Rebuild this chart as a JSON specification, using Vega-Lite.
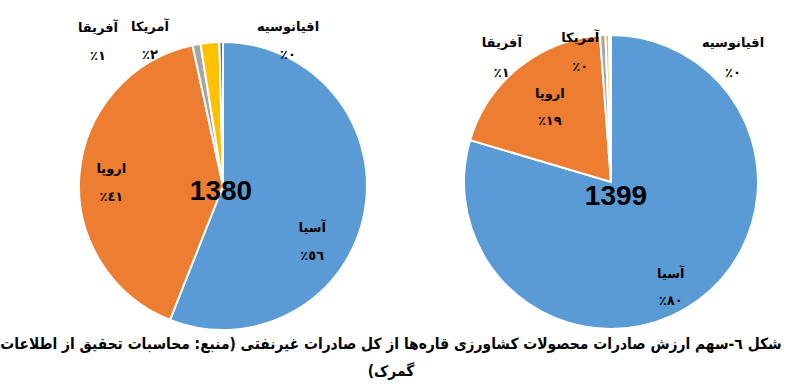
{
  "$schema": "https://vega.github.io/schema/vega-lite/v6.json",
  "padding": 0,
  "background": "white",
  "spacing": 0,
  "bounds": "flush",
  "config": {"view": {"stroke": null}},
  "datasets": {
    "pies": [
      {"year": "1380", "continent": "آسیا", "share": 56.0, "rank": 1, "label": ["آسیا", "٪٥٦"]},
      {"year": "1380", "continent": "اروپا", "share": 40.6, "rank": 2, "label": ["اروپا", "٪٤١"]},
      {"year": "1380", "continent": "آفریقا", "share": 0.9, "rank": 3, "label": ["آفریقا", "٪١"]},
      {"year": "1380", "continent": "آمریکا", "share": 2.1, "rank": 4, "label": ["آمریکا", "٪٢"]},
      {"year": "1380", "continent": "اقیانوسیه", "share": 0.4, "rank": 5, "label": ["اقیانوسیه", "٪٠"]},
      {"year": "1399", "continent": "آسیا", "share": 79.6, "rank": 1, "label": ["آسیا", "٪٨٠"]},
      {"year": "1399", "continent": "اروپا", "share": 19.2, "rank": 2, "label": ["اروپا", "٪١٩"]},
      {"year": "1399", "continent": "آفریقا", "share": 0.6, "rank": 3, "label": ["آفریقا", "٪١"]},
      {"year": "1399", "continent": "آمریکا", "share": 0.4, "rank": 4, "label": ["آمریکا", "٪٠"]},
      {"year": "1399", "continent": "اقیانوسیه", "share": 0.2, "rank": 5, "label": ["اقیانوسیه", "٪٠"]}
    ]
  },
  "title": {
    "text": ["شکل ٦-سهم ارزش صادرات محصولات کشاورزی قاره‌ها از کل صادرات غیرنفتی (منبع: محاسبات تحقیق از اطلاعات", "‏گمرک)‏"],
    "orient": "bottom",
    "anchor": "middle",
    "offset": -35,
    "font": "DejaVu Sans Condensed",
    "fontSize": 15.4,
    "fontWeight": "bold",
    "color": "black",
    "lineHeight": 27
  },
  "hconcat": [
    {
      "width": 440,
      "height": 372,
      "data": {"name": "pies"},
      "transform": [{"filter": "datum.year === '1380'"}],
      "layer": [
        {
          "mark": {"type": "arc", "outerRadius": 144, "stroke": "white", "strokeWidth": 2},
          "encoding": {
            "theta": {"field": "share", "type": "quantitative", "stack": true},
            "order": {"field": "rank", "type": "quantitative"},
            "color": {"field": "continent", "type": "nominal", "legend": null,
              "scale": {"domain": ["آسیا", "اروپا", "آفریقا", "آمریکا", "اقیانوسیه"], "range": ["#5B9BD5", "#ED7D31", "#A5A5A5", "#FFC000", "#4472C4"]}}
          }
        },
        {
          "mark": {"type": "text", "radius": 98, "dx": -7, "dy": 24, "font": "DejaVu Sans", "fontWeight": "bold", "fontSize": 13, "lineHeight": 28, "baseline": "middle", "align": "center", "color": "black"},
          "encoding": {
            "theta": {"field": "share", "type": "quantitative", "stack": true},
            "order": {"field": "rank", "type": "quantitative"},
            "text": {"condition": {"test": "datum.rank === 1", "field": "label"}, "value": ""}
          }
        },
        {
          "mark": {"type": "text", "radius": 113, "dx": 1, "dy": -8, "font": "DejaVu Sans", "fontWeight": "bold", "fontSize": 13, "lineHeight": 28, "baseline": "middle", "align": "center", "color": "black"},
          "encoding": {
            "theta": {"field": "share", "type": "quantitative", "stack": true},
            "order": {"field": "rank", "type": "quantitative"},
            "text": {"condition": {"test": "datum.rank === 2", "field": "label"}, "value": ""}
          }
        },
        {
          "transform": [{"stack": "share", "groupby": [], "sort": [{"field": "rank"}], "as": ["s0", "s1"]}, {"filter": "datum.rank === 3"}],
          "mark": {"type": "text", "radius": 160, "dx": -100, "dy": 0, "font": "DejaVu Sans", "fontWeight": "bold", "fontSize": 13, "lineHeight": 28, "baseline": "middle", "align": "center", "color": "black"},
          "encoding": {
            "theta": {"field": "s1", "type": "quantitative", "stack": null},
            "text": {"field": "label"}
          }
        },
        {
          "transform": [{"stack": "share", "groupby": [], "sort": [{"field": "rank"}], "as": ["s0", "s1"]}, {"filter": "datum.rank === 4"}],
          "mark": {"type": "text", "radius": 160, "dx": -69, "dy": 1, "font": "DejaVu Sans", "fontWeight": "bold", "fontSize": 13, "lineHeight": 28, "baseline": "middle", "align": "center", "color": "black"},
          "encoding": {
            "theta": {"field": "s1", "type": "quantitative", "stack": null},
            "text": {"field": "label"}
          }
        },
        {
          "transform": [{"stack": "share", "groupby": [], "sort": [{"field": "rank"}], "as": ["s0", "s1"]}, {"filter": "datum.rank === 5"}],
          "mark": {"type": "text", "radius": 159, "dx": 65, "dy": 0, "font": "DejaVu Sans", "fontWeight": "bold", "fontSize": 13, "lineHeight": 28, "baseline": "middle", "align": "center", "color": "black"},
          "encoding": {
            "theta": {"field": "s1", "type": "quantitative", "stack": null},
            "text": {"field": "label"}
          }
        },
        {
          "transform": [{"filter": "datum.rank === 1"}],
          "mark": {"type": "text", "dx": -2, "dy": 6, "font": "Liberation Sans", "fontWeight": "bold", "fontSize": 28, "baseline": "middle", "align": "center", "color": "black"},
          "encoding": {"text": {"field": "year", "type": "nominal"}}
        }
      ]
    },
    {
      "width": 336,
      "height": 364,
      "data": {"name": "pies"},
      "transform": [{"filter": "datum.year === '1399'"}],
      "layer": [
        {
          "mark": {"type": "arc", "outerRadius": 147, "stroke": "white", "strokeWidth": 2},
          "encoding": {
            "theta": {"field": "share", "type": "quantitative", "stack": true},
            "order": {"field": "rank", "type": "quantitative"},
            "color": {"field": "continent", "type": "nominal", "legend": null,
              "scale": {"domain": ["آسیا", "اروپا", "آفریقا", "آمریکا", "اقیانوسیه"], "range": ["#5B9BD5", "#ED7D31", "#A5A5A5", "#FFC000", "#4472C4"]}}
          }
        },
        {
          "mark": {"type": "text", "radius": 110, "dx": -6, "dy": 4, "font": "DejaVu Sans", "fontWeight": "bold", "fontSize": 13, "lineHeight": 27, "baseline": "middle", "align": "center", "color": "black"},
          "encoding": {
            "theta": {"field": "share", "type": "quantitative", "stack": true},
            "order": {"field": "rank", "type": "quantitative"},
            "text": {"condition": {"test": "datum.rank === 1", "field": "label"}, "value": ""}
          }
        },
        {
          "mark": {"type": "text", "radius": 107, "dx": 6, "dy": -5, "font": "DejaVu Sans", "fontWeight": "bold", "fontSize": 13, "lineHeight": 27, "baseline": "middle", "align": "center", "color": "black"},
          "encoding": {
            "theta": {"field": "share", "type": "quantitative", "stack": true},
            "order": {"field": "rank", "type": "quantitative"},
            "text": {"condition": {"test": "datum.rank === 2", "field": "label"}, "value": ""}
          }
        },
        {
          "transform": [{"stack": "share", "groupby": [], "sort": [{"field": "rank"}], "as": ["s0", "s1"]}, {"filter": "datum.rank === 3"}],
          "mark": {"type": "text", "radius": 139, "dx": -104, "dy": 0, "font": "DejaVu Sans", "fontWeight": "bold", "fontSize": 13, "lineHeight": 30, "baseline": "middle", "align": "center", "color": "black"},
          "encoding": {
            "theta": {"field": "s1", "type": "quantitative", "stack": null},
            "text": {"field": "label"}
          }
        },
        {
          "transform": [{"stack": "share", "groupby": [], "sort": [{"field": "rank"}], "as": ["s0", "s1"]}, {"filter": "datum.rank === 4"}],
          "mark": {"type": "text", "radius": 144, "dx": -29, "dy": 0, "font": "DejaVu Sans", "fontWeight": "bold", "fontSize": 13, "lineHeight": 29, "baseline": "middle", "align": "center", "color": "black"},
          "encoding": {
            "theta": {"field": "s1", "type": "quantitative", "stack": null},
            "text": {"field": "label"}
          }
        },
        {
          "transform": [{"stack": "share", "groupby": [], "sort": [{"field": "rank"}], "as": ["s0", "s1"]}, {"filter": "datum.rank === 5"}],
          "mark": {"type": "text", "radius": 139, "dx": 122, "dy": 0, "font": "DejaVu Sans", "fontWeight": "bold", "fontSize": 13, "lineHeight": 30, "baseline": "middle", "align": "center", "color": "black"},
          "encoding": {
            "theta": {"field": "s1", "type": "quantitative", "stack": null},
            "text": {"field": "label"}
          }
        },
        {
          "transform": [{"filter": "datum.rank === 1"}],
          "mark": {"type": "text", "dx": 5, "dy": 15, "font": "Liberation Sans", "fontWeight": "bold", "fontSize": 28, "baseline": "middle", "align": "center", "color": "black"},
          "encoding": {"text": {"field": "year", "type": "nominal"}}
        }
      ]
    }
  ]
}
